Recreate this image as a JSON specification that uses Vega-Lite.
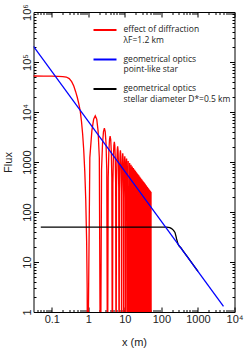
{
  "$schema": "https://vega.github.io/schema/vega-lite/v6.json",
  "width": 201,
  "height": 300,
  "autosize": "none",
  "padding": {"left": 33.5, "top": 12, "right": 12.5, "bottom": 42},
  "background": "white",
  "datasets": {
    "diffraction": [
      {"x":0.0316,"y":52500},{"x":0.06,"y":52300},{"x":0.1,"y":52000},{"x":0.15,"y":51500},{"x":0.2,"y":51000},{"x":0.25,"y":50000},{"x":0.3,"y":46500},{"x":0.35,"y":40500},{"x":0.4,"y":33000},{"x":0.45,"y":25500},{"x":0.5,"y":19500},{"x":0.55,"y":14500},{"x":0.6,"y":10500},{"x":0.65,"y":6500},{"x":0.7,"y":3600},{"x":0.75,"y":1700},{"x":0.8,"y":650},{"x":0.85,"y":180},{"x":0.9,"y":25},{"x":0.93,"y":3},
      {"x":0.95,"y":0.01},{"x":1.1,"y":1225},{"x":1.25,"y":4194},{"x":1.4,"y":7163},{"x":1.55,"y":8387},{"x":1.7,"y":7163},{"x":1.85,"y":4194},{"x":2.0,"y":1225},
      {"x":2.15,"y":0.01},{"x":2.3,"y":690},{"x":2.45,"y":2364},{"x":2.6,"y":4037},{"x":2.75,"y":4727},{"x":2.9,"y":4037},{"x":3.05,"y":2364},{"x":3.2,"y":690},
      {"x":3.35,"y":0.01},{"x":3.5,"y":480},{"x":3.65,"y":1646},{"x":3.8,"y":2811},{"x":3.95,"y":3291},{"x":4.1,"y":2811},{"x":4.25,"y":1646},{"x":4.4,"y":480},
      {"x":4.55,"y":0.01},{"x":4.7,"y":369},{"x":4.85,"y":1262},{"x":5.0,"y":2156},{"x":5.15,"y":2524},{"x":5.3,"y":2156},{"x":5.45,"y":1262},{"x":5.6,"y":369},
      {"x":5.75,"y":0.01},{"x":5.9,"y":299},{"x":6.05,"y":1024},{"x":6.2,"y":1748},{"x":6.35,"y":2047},{"x":6.5,"y":1748},{"x":6.65,"y":1024},{"x":6.8,"y":299},
      {"x":6.95,"y":0.01},{"x":7.1,"y":251},{"x":7.25,"y":861},{"x":7.4,"y":1471},{"x":7.55,"y":1722},{"x":7.7,"y":1471},{"x":7.85,"y":861},{"x":8.0,"y":251},
      {"x":8.15,"y":0.01},{"x":8.3,"y":217},{"x":8.45,"y":743},{"x":8.6,"y":1269},{"x":8.75,"y":1486},{"x":8.9,"y":1269},{"x":9.05,"y":743},{"x":9.2,"y":217},
      {"x":9.35,"y":0.01},{"x":9.5,"y":191},{"x":9.65,"y":653},{"x":9.8,"y":1116},{"x":9.95,"y":1307},{"x":10.1,"y":1116},{"x":10.25,"y":653},{"x":10.4,"y":191},
      {"x":10.55,"y":0.01},{"x":10.7,"y":170},{"x":10.85,"y":583},{"x":11.0,"y":996},{"x":11.15,"y":1166},{"x":11.3,"y":996},{"x":11.45,"y":583},{"x":11.6,"y":170},
      {"x":11.75,"y":0.01},{"x":12.35,"y":1053},
      {"x":12.95,"y":0.01},{"x":13.55,"y":959},
      {"x":14.15,"y":0.01},{"x":14.75,"y":881},
      {"x":15.35,"y":0.01},{"x":15.95,"y":815},
      {"x":16.55,"y":0.01},{"x":17.15,"y":758},
      {"x":17.75,"y":0.01},{"x":18.35,"y":708},
      {"x":18.95,"y":0.01},{"x":19.55,"y":665},
      {"x":20.15,"y":0.01},{"x":20.75,"y":627},
      {"x":21.35,"y":0.01},{"x":21.95,"y":592},
      {"x":22.55,"y":0.01},{"x":23.15,"y":562},
      {"x":23.75,"y":0.01},{"x":24.35,"y":534},
      {"x":24.95,"y":0.01},{"x":25.55,"y":509},
      {"x":26.15,"y":0.01},{"x":26.75,"y":486},
      {"x":27.35,"y":0.01},{"x":27.95,"y":465},
      {"x":28.55,"y":0.01},{"x":29.15,"y":446},
      {"x":29.75,"y":0.01},{"x":30.35,"y":428},
      {"x":30.95,"y":0.01},{"x":31.55,"y":412},
      {"x":32.15,"y":0.01},{"x":32.75,"y":397},
      {"x":33.35,"y":0.01},{"x":33.95,"y":383},
      {"x":34.55,"y":0.01},{"x":35.15,"y":370},
      {"x":35.75,"y":0.01},{"x":36.35,"y":358},
      {"x":36.95,"y":0.01},{"x":37.55,"y":346},
      {"x":38.15,"y":0.01},{"x":38.75,"y":335},
      {"x":39.35,"y":0.01},{"x":39.95,"y":325},
      {"x":40.55,"y":0.01},{"x":41.15,"y":316},
      {"x":41.75,"y":0.01},{"x":42.35,"y":307},
      {"x":42.95,"y":0.01},{"x":43.55,"y":299},
      {"x":44.15,"y":0.01},{"x":44.75,"y":291},
      {"x":45.35,"y":0.01},{"x":45.95,"y":283},
      {"x":46.55,"y":0.01},{"x":47.15,"y":276},
      {"x":47.75,"y":0.01},{"x":48.35,"y":269},
      {"x":48.95,"y":0.01},{"x":49.55,"y":262},
      {"x":50.15,"y":0.01},{"x":50.75,"y":256},
      {"x":51.35,"y":0.01},{"x":51.95,"y":250},
      {"x":52.55,"y":0.01}
    ],
    "stellar": [
      {"x":0.05,"y":50},{"x":1,"y":50},{"x":100,"y":50},{"x":140,"y":49.8},{"x":170,"y":48.8},{"x":190,"y":46.5},{"x":215,"y":43},{"x":235,"y":39},{"x":250,"y":33},{"x":260,"y":29},{"x":275,"y":25},{"x":288,"y":22.3},{"x":310,"y":20.6},{"x":341,"y":19.3},{"x":400,"y":16.4},{"x":500,"y":13.05},{"x":1000,"y":6.5}
    ],
    "pointlike": [
      {"x":0.0316,"y":205700},{"x":5000,"y":1.3}
    ]
  },
  "layer": [
    {
      "data": {"name": "diffraction"},
      "mark": {"type": "line", "clip": true, "strokeWidth": 1.3},
      "encoding": {
        "x": {
          "field": "x", "type": "quantitative",
          "scale": {"type": "log", "domain": [0.031623, 10000], "nice": false},
          "axis": {
            "orient": "bottom",
            "title": "x  (m)",
            "values": [0.04,0.05,0.06,0.07,0.08,0.09,0.1,0.2,0.3,0.4,0.5,0.6,0.7,0.8,0.9,1,2,3,4,5,6,7,8,9,10,20,30,40,50,60,70,80,90,100,200,300,400,500,600,700,800,900,1000,2000,3000,4000,5000,6000,7000,8000,9000,10000],
            "labelExpr": "datum.value==0.1?'0.1':datum.value==1?'1':datum.value==10?'10':datum.value==100?'100':datum.value==1000?'1000':datum.value==10000?'10⁴':''",
            "tickSize": {"condition": {"test": "indexof([0.1,1,10,100,1000,10000], datum.value) >= 0", "value": -5}, "value": -2.5},
            "labelPadding": 6,
            "titlePadding": 10
          }
        },
        "y": {
          "field": "y", "type": "quantitative",
          "scale": {"type": "log", "domain": [1, 1000000], "nice": false},
          "axis": {
            "orient": "left",
            "title": "Flux",
            "values": [1,2,3,4,5,6,7,8,9,10,20,30,40,50,60,70,80,90,100,200,300,400,500,600,700,800,900,1000,2000,3000,4000,5000,6000,7000,8000,9000,10000,20000,30000,40000,50000,60000,70000,80000,90000,100000,200000,300000,400000,500000,600000,700000,800000,900000,1000000],
            "labelExpr": "datum.value==1?'1':datum.value==10?'10':datum.value==100?'100':datum.value==1000?'1000':datum.value==10000?'10⁴':datum.value==100000?'10⁵':datum.value==1000000?'10⁶':''",
            "tickSize": {"condition": {"test": "indexof([1,10,100,1000,10000,100000,1000000], datum.value) >= 0", "value": -5}, "value": -2.5},
            "labelAngle": -90,
            "labelAlign": "center",
            "labelBaseline": "bottom",
            "labelPadding": 6,
            "titlePadding": 6
          }
        },
        "color": {
          "datum": "effect of diffraction|λF=1.2 km",
          "scale": {
            "domain": ["effect of diffraction|λF=1.2 km", "geometrical optics|point-like star", "geometrical optics|stellar diameter D*=0.5 km"],
            "range": ["#ff0000", "#0000ff", "#000000"]
          },
          "legend": {
            "orient": "none",
            "legendX": 59,
            "legendY": 5.5,
            "title": null,
            "symbolType": "stroke",
            "symbolSize": 529,
            "symbolStrokeWidth": 2,
            "labelFont": "Open Sans",
            "labelFontSize": 8.5,
            "labelColor": "#222222",
            "labelBaseline": "top",
            "labelOffset": 6,
            "labelLimit": 200,
            "rowPadding": 2.5,
            "padding": 0,
            "labelExpr": "split(datum.label, '|')",
            "encode": {"labels": {"update": {"dy": {"value": -5}}}}
          }
        }
      }
    },
    {
      "data": {"name": "stellar"},
      "mark": {"type": "line", "clip": true, "strokeWidth": 1.3},
      "encoding": {
        "x": {"field": "x", "type": "quantitative", "axis": null},
        "y": {"field": "y", "type": "quantitative", "axis": null},
        "color": {"datum": "geometrical optics|stellar diameter D*=0.5 km"}
      }
    },
    {
      "data": {"name": "pointlike"},
      "mark": {"type": "line", "clip": true, "strokeWidth": 1.3},
      "encoding": {
        "x": {
          "field": "x", "type": "quantitative",
          "axis": {
            "orient": "top", "title": null, "labels": false,
            "values": [0.04,0.05,0.06,0.07,0.08,0.09,0.1,0.2,0.3,0.4,0.5,0.6,0.7,0.8,0.9,1,2,3,4,5,6,7,8,9,10,20,30,40,50,60,70,80,90,100,200,300,400,500,600,700,800,900,1000,2000,3000,4000,5000,6000,7000,8000,9000,10000],
            "tickSize": {"condition": {"test": "indexof([0.1,1,10,100,1000,10000], datum.value) >= 0", "value": -5}, "value": -2.5}
          }
        },
        "y": {
          "field": "y", "type": "quantitative",
          "axis": {
            "orient": "right", "title": null, "labels": false,
            "values": [1,2,3,4,5,6,7,8,9,10,20,30,40,50,60,70,80,90,100,200,300,400,500,600,700,800,900,1000,2000,3000,4000,5000,6000,7000,8000,9000,10000,20000,30000,40000,50000,60000,70000,80000,90000,100000,200000,300000,400000,500000,600000,700000,800000,900000,1000000],
            "tickSize": {"condition": {"test": "indexof([1,10,100,1000,10000,100000,1000000], datum.value) >= 0", "value": -5}, "value": -2.5}
          }
        },
        "color": {"datum": "geometrical optics|point-like star"}
      }
    }
  ],
  "resolve": {"axis": {"x": "independent", "y": "independent"}},
  "config": {
    "view": {"stroke": null},
    "axis": {
      "grid": false,
      "domainColor": "#000000",
      "domainWidth": 1,
      "tickColor": "#000000",
      "tickWidth": 1,
      "labelFont": "Liberation Sans",
      "labelFontSize": 11,
      "labelColor": "#222222",
      "titleFont": "Liberation Sans",
      "titleFontSize": 11,
      "titleFontWeight": "normal",
      "titleColor": "#222222",
      "labelFlush": false,
      "labelOverlap": false
    }
  }
}
